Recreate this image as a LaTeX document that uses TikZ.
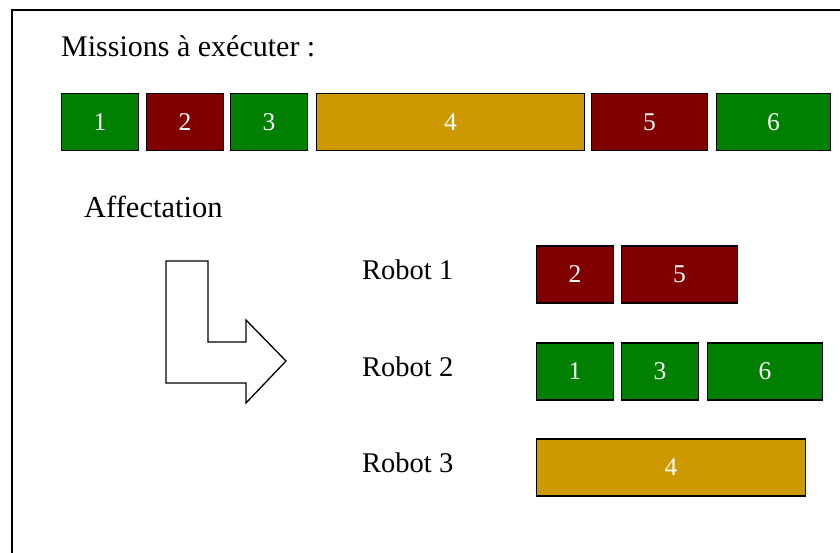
\documentclass[tikz,border=0pt]{standalone}
\usepackage{fontspec}
\setmainfont{Liberation Serif}
\definecolor{mgreen}{HTML}{008000}
\definecolor{mred}{HTML}{800000}
\definecolor{mgold}{HTML}{CC9900}
\begin{document}
\begin{tikzpicture}[x=1pt,y=1pt,
  box/.style={draw=black, line width=1.8pt, rectangle, inner sep=0pt, minimum height=57pt,
    text=white, font=\fontsize{25.5}{26}\selectfont},
  g/.style={box, fill=mgreen},
  r/.style={box, fill=mred},
  o/.style={box, fill=mgold},
  lbl/.style={anchor=base west, inner sep=0pt, font=\fontsize{28.5}{30}\selectfont}]
\useasboundingbox (0,0) rectangle (840,553);
\draw[line width=2pt] (12,-10) -- (12,543) -- (860,543);
\node[lbl, font=\fontsize{30}{32}\selectfont] (title) at (61,496) {Missions à exécuter :};
% mission row
\node[g, minimum width=77pt] (m1) at (100,431) {1};
\node[r, minimum width=77pt] (m2) at (185,431) {2};
\node[g, minimum width=77pt] (m3) at (269,431) {3};
\node[o, minimum width=268pt] (m4) at (450.5,431) {4};
\node[r, minimum width=116pt] (m5) at (649.5,431) {5};
\node[g, minimum width=114pt] (m6) at (773.5,431) {6};
\node[lbl, font=\fontsize{30.5}{32}\selectfont] (aff) at (84,335) {Affectation};
% arrow
\draw[line width=1.3pt, line join=miter] (166,292) -- (208,292) -- (208,211) -- (246,211) -- (246,233)
  -- (286,192) -- (246,150) -- (246,170) -- (166,170) -- cycle;
% robots
\node[lbl] (r1) at (362,273) {Robot 1};
\node[lbl] (r2) at (362,176) {Robot 2};
\node[lbl] (r3) at (362,80) {Robot 3};
\node[r, minimum width=77pt] (a2) at (575,278.5) {2};
\node[r, minimum width=116pt] (a5) at (679.5,278.5) {5};
\node[g, minimum width=77pt] (b1) at (575,181.5) {1};
\node[g, minimum width=77pt] (b3) at (660,181.5) {3};
\node[g, minimum width=115pt] (b6) at (765,181.5) {6};
\node[o, minimum width=269pt] (c4) at (671,85.5) {4};
\end{tikzpicture}
\end{document}
